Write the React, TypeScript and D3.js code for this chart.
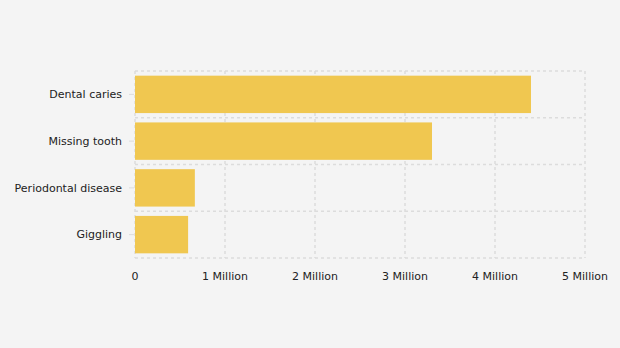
import React from "react";
import * as d3 from "d3";

const categories = ["Dental caries", "Missing tooth", "Periodontal disease", "Giggling"];
const values = [4400000, 3300000, 665000, 590000];
const xTicks = [0, 1000000, 2000000, 3000000, 4000000, 5000000];
const xTickLabels = ["0", "1 Million", "2 Million", "3 Million", "4 Million", "5 Million"];

export default function App() {
  const W = 620, H = 348;
  const left = 135, right = 585, top = 71, bottom = 258;
  const x = d3.scaleLinear().domain([0, 5000000]).range([left, right]);
  const y = d3.scaleBand<string>().domain(categories).range([top, bottom]).paddingInner(0.2).paddingOuter(0.1);
  const bandStep = (bottom - top) / categories.length;
  const font = "Verdana, 'DejaVu Sans', sans-serif";
  const gridColor = "#dcdcdc";
  return (
    <svg width={W} height={H} style={{ position: "absolute", left: 0, top: 0, background: "#f4f4f4" }}>
      <rect x={0} y={0} width={W} height={H} fill="#f4f4f4" />
      {/* horizontal grid */}
      {d3.range(categories.length + 1).map((i) => (
        <line key={"h" + i} x1={left} x2={right} y1={top + i * bandStep} y2={top + i * bandStep}
          stroke={gridColor} strokeWidth={1.5} strokeDasharray="3,3" />
      ))}
      {/* vertical grid */}
      {xTicks.map((t) => (
        <line key={"v" + t} x1={x(t)} x2={x(t)} y1={top} y2={bottom}
          stroke={gridColor} strokeWidth={1.5} strokeDasharray="3,3" />
      ))}
      {/* bars */}
      {categories.map((c, i) => (
        <rect key={c} x={x(0)} y={y(c)} width={x(values[i]) - x(0)} height={y.bandwidth()} fill="#f0c750" />
      ))}
      {/* y ticks & labels */}
      {categories.map((c) => {
        const cy = (y(c) as number) + y.bandwidth() / 2;
        return (
          <g key={"yl" + c}>
            <line x1={129} x2={134} y1={cy} y2={cy} stroke={gridColor} strokeWidth={1} />
            <text x={122} y={cy} dy="0.35em" textAnchor="end" fontFamily={font} fontSize={11} fill="#222">{c}</text>
          </g>
        );
      })}
      {/* x labels */}
      {xTicks.map((t, i) => (
        <text key={"xl" + t} x={x(t)} y={276} dy="0.35em" textAnchor="middle" fontFamily={font} fontSize={11} fill="#222">{xTickLabels[i]}</text>
      ))}
    </svg>
  );
}
